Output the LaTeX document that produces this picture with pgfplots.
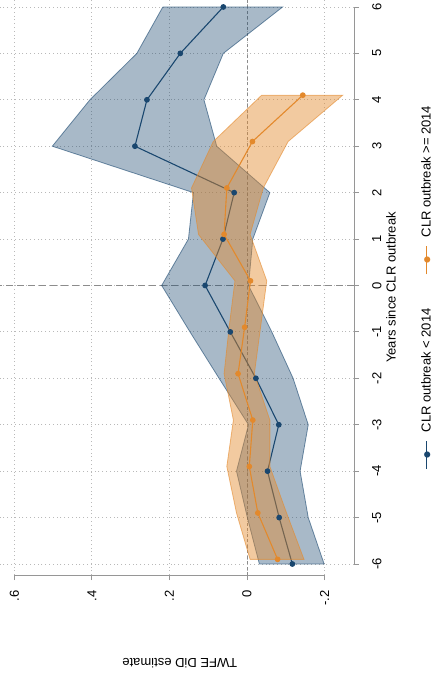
\documentclass[border=0pt]{standalone}
\usepackage{pgfplots}
\pgfplotsset{compat=1.18}
\usepackage{fontspec}
\setmainfont{Liberation Sans}
\newfontfamily\djv{DejaVu Sans}
\definecolor{snavy}{RGB}{26,71,111}
\definecolor{sorange}{RGB}{227,137,44}
\definecolor{axgray}{RGB}{150,150,150}
\newcommand{\legsym}[1]{\textcolor{#1}{\rule[4pt]{28pt}{1.1pt}\hspace{-28pt}\makebox[28pt][c]{\raisebox{1.2pt}{\djv\fontsize{8}{8}\selectfont ●}}}}
\begin{document}
\begin{tikzpicture}[font=\fontsize{13}{15}\selectfont]
\begin{axis}[
  name=ax,
  width=354pt, height=575pt, scale only axis,
  x dir=reverse,
  xmin=-0.276, xmax=0.637,
  ymin=-6.237, ymax=6.15,
  axis x line*=bottom, axis y line*=right,
  x axis line style={axgray, line width=0.8pt, shorten <=30pt, shorten >=14pt},
  y axis line style={axgray, line width=0.8pt, shorten <=11pt, shorten >=7.5pt},
  xtick={-0.2,0,0.2,0.4,0.6}, xticklabels={-.2,0,.2,.4,.6},
  ytick={-6,-5,-4,-3,-2,-1,0,1,2,3,4,5,6},
  /pgf/number format/assume math mode=true,
  tick align=outside, major tick length=5pt,
  tick style={axgray, line width=0.8pt},
  xticklabel style={rotate=90, anchor=east, inner sep=0pt, font=\fontsize{13}{15}\selectfont},
  yticklabel style={rotate=90, anchor=north, inner sep=0pt, font=\fontsize{13}{15}\selectfont},
  xticklabel shift=10pt, yticklabel shift=13pt,
  grid=major,
  major grid style={dash pattern=on 0.9pt off 2.9pt, gray!55, line width=0.8pt},
  xlabel={TWFE DiD estimate},
  ylabel={Years since CLR outbreak},
  every axis x label/.style={at={(axis description cs:0.508,0)}, yshift=-88pt, anchor=center, rotate=180},
  every axis y label/.style={at={(axis description cs:1,0.5)}, xshift=37pt, anchor=center, rotate=90},
]
% reference lines at zero
\addplot[forget plot, gray!90, line width=0.8pt, dash pattern=on 3pt off 2.5pt] coordinates {(0,-6.237)(0,6.15)};
\addplot[forget plot, gray!90, line width=0.8pt, dash pattern=on 7pt off 4pt] coordinates {(-0.276,0)(0.637,0)};
% blue band
\addplot[forget plot, fill=snavy, fill opacity=0.38, draw=snavy, draw opacity=0.6, line width=0.8pt]
coordinates {(0.217,6)(0.284,5)(0.405,4)(0.502,3)(0.138,2)(0.151,1)(0.220,0)(0.147,-1)(0.072,-2)(-0.004,-3)(0.027,-4)(-0.001,-5)(-0.032,-6)
(-0.199,-6)(-0.158,-5)(-0.137,-4)(-0.158,-3)(-0.119,-2)(-0.064,-1)(-0.004,0)(-0.015,1)(-0.059,2)(0.078,3)(0.111,4)(0.061,5)(-0.092,6)(0.217,6)};
% blue line
\addplot[snavy, line width=1.1pt, mark=*, mark size=2.3pt, mark options={fill=snavy, draw=snavy}]
coordinates {(0.061,6)(0.172,5)(0.258,4)(0.289,3)(0.033,2)(0.062,1)(0.108,0)(0.043,-1)(-0.023,-2)(-0.082,-3)(-0.053,-4)(-0.083,-5)(-0.117,-6)};
% orange band
\addplot[forget plot, fill=sorange, fill opacity=0.45, draw=sorange, draw opacity=0.6, line width=0.8pt]
coordinates {(-0.038,4.1)(0.087,3.1)(0.143,2.1)(0.125,1.1)(0.031,0.1)(0.046,-0.9)(0.059,-1.9)(0.035,-2.9)(0.052,-3.9)(0.027,-4.9)(-0.008,-5.9)
(-0.147,-5.9)(-0.102,-4.9)(-0.059,-3.9)(-0.059,-2.9)(-0.019,-1.9)(-0.035,-0.9)(-0.051,0.1)(-0.008,1.1)(-0.042,2.1)(-0.106,3.1)(-0.247,4.1)(-0.038,4.1)};
% orange line
\addplot[sorange, line width=1.1pt, mark=*, mark size=2.3pt, mark options={fill=sorange, draw=sorange}]
coordinates {(-0.144,4.1)(-0.014,3.1)(0.052,2.1)(0.059,1.1)(-0.009,0.1)(0.006,-0.9)(0.023,-1.9)(-0.015,-2.9)(-0.006,-3.9)(-0.028,-4.9)(-0.079,-5.9)};
\end{axis}
\node[rotate=90, anchor=center, inner sep=0pt] at ([xshift=72pt]ax.east)
  {\legsym{snavy}\hspace{9pt}CLR outbreak < 2014\hspace{34pt}\legsym{sorange}\hspace{9pt}CLR outbreak >= 2014};
\pgfresetboundingbox
\path[use as bounding box] ([shift={(0pt,-106pt)}]ax.south west) rectangle ([shift={(82pt,0pt)}]ax.north east);
\end{tikzpicture}
\end{document}
